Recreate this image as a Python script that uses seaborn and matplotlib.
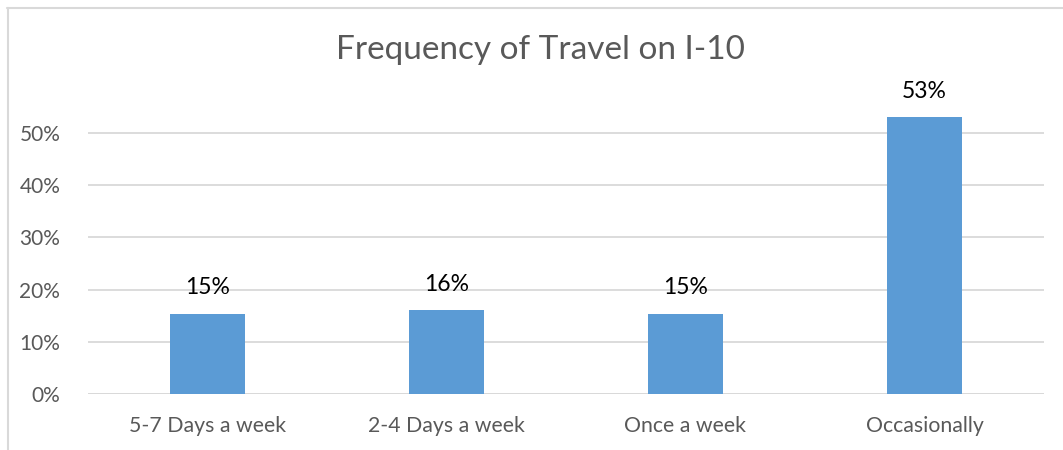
import matplotlib
matplotlib.use("Agg")
import matplotlib.pyplot as plt
import seaborn as sns
import pandas as pd
from matplotlib.lines import Line2D

categories = ["5-7 Days a week", "2-4 Days a week", "Once a week", "Occasionally"]
shares = [15.4, 16.1, 15.4, 53.1]
yticks = [0, 10, 20, 30, 40, 50]
ytick_labels = ["0%", "10%", "20%", "30%", "40%", "50%"]
title = "Frequency of Travel on I-10"

df = pd.DataFrame({"category": categories, "share": shares})

sns.set_theme(style="white")
plt.rcParams["font.family"] = ["Lato", "DejaVu Sans"]

W, H = 1063, 450
fig = plt.figure(figsize=(W / 100, H / 100), dpi=100)
ax = fig.add_axes([88 / W, 1 - 394 / H, (1044 - 88) / W, (394 - 107) / H])

bar_color = "#5B9BD5"
text_grey = "#595959"
grid_grey = "#D9D9D9"

sns.barplot(data=df, x="category", y="share", color=bar_color, width=0.314,
            saturation=1, ax=ax, zorder=3)
for p in ax.patches:
    p.set_edgecolor("none")

ax.set_ylim(0, 55)
ax.set_xlim(-0.5, len(categories) - 0.5)
ax.set_yticks(yticks)
ax.set_yticklabels(ytick_labels)
ax.yaxis.grid(True, color=grid_grey, linewidth=1.3, zorder=0)
ax.set_axisbelow(True)
for s in ax.spines.values():
    s.set_visible(False)
ax.axhline(0, color=grid_grey, linewidth=1.3, zorder=2)
ax.set_xlabel("")
ax.set_ylabel("")
ax.tick_params(axis="y", labelsize=15, colors=text_grey, pad=20, length=0)
ax.tick_params(axis="x", labelsize=15.3, colors=text_grey, pad=16, length=0)

for i, v in enumerate(shares):
    ax.annotate(f"{round(v):d}%", (i, v), xytext=(0, 11), textcoords="offset points",
                ha="center", va="bottom", fontsize=16.5, color="#000000")

fig.text(540 / W, 1 - 50 / H, title, ha="center", va="center",
         fontsize=24, color=text_grey)

# frame lines along the top and left of the figure
fig.add_artist(Line2D([7 / W, 1], [1 - 7.5 / H, 1 - 7.5 / H], color=grid_grey,
                      linewidth=1.5, transform=fig.transFigure))
fig.add_artist(Line2D([7.5 / W, 7.5 / W], [0, 1 - 7.5 / H], color=grid_grey,
                      linewidth=1.5, transform=fig.transFigure))

fig.savefig("out.png", dpi=100, facecolor="white")
